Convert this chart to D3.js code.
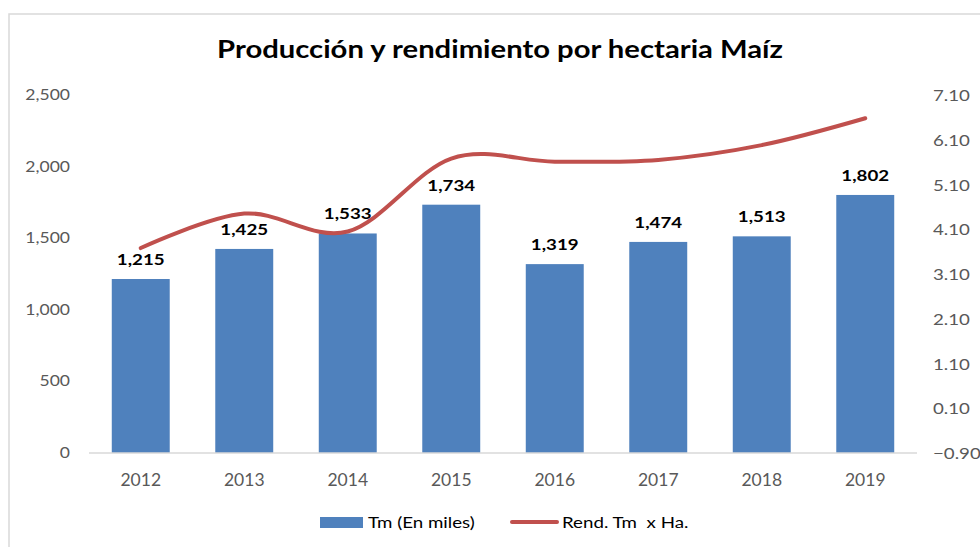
<!DOCTYPE html>
<html>
<head>
<meta charset="utf-8">
<script src="https://cdn.jsdelivr.net/npm/d3@7"></script>
<style>
  body { margin: 0; background: #fff; }
  svg { display: block; font-family: Lato, "Open Sans", sans-serif; }
</style>
</head>
<body>
<svg id="chart" width="980" height="547"></svg>
<script>
// data
const years = ['2012', '2013', '2014', '2015', '2016', '2017', '2018', '2019'];
const production = [1215, 1425, 1533, 1734, 1319, 1474, 1513, 1802];
const yieldPerHa = [3.68, 4.45, 4.05, 5.68, 5.61, 5.65, 5.98, 6.58];
const leftTicks = [0, 500, 1000, 1500, 2000, 2500];
const rightTicks = [-0.9, 0.1, 1.1, 2.1, 3.1, 4.1, 5.1, 6.1, 7.1];

const svg = d3.select('#chart');
const plot = { left: 89, right: 917, top: 95, bottom: 453 };
const stretch = 1.17; // the original text is drawn a bit wide

// put a text at (x, y), optionally widened
function at(x, y, sx) {
    return 'translate(' + x + ',' + y + ') scale(' + (sx || stretch) + ',1)';
}

// outer frame
svg.append('path')
    .attr('d', 'M9,560 L9,14 L990,14')
    .attr('fill', 'none')
    .attr('stroke', '#d9d9d9')
    .attr('stroke-width', 1.5);

svg.append('text')
    .attr('transform', at(500, 58))
    .attr('text-anchor', 'middle')
    .style('font-size', '25px').style('font-weight', 'bold')
    .attr('fill', '#000')
    .text('Producción y rendimiento por hectaria Maíz');

const x = d3.scaleBand().domain(years)
    .range([plot.left, plot.right]).paddingInner(0.44).paddingOuter(0.22);
const yL = d3.scaleLinear().domain([0, 2500]).range([plot.bottom, plot.top]);
const yR = d3.scaleLinear().domain([-0.9, 7.1]).range([plot.bottom, plot.top]);

// left axis labels
svg.append('g').selectAll('text').data(leftTicks).join('text')
    .attr('transform', d => at(70, yL(d) + 5))
    .attr('text-anchor', 'end')
    .style('font-size', '15px').attr('fill', '#595959')
    .text(d => d3.format(',')(d));

// right axis labels
svg.append('g').selectAll('text').data(rightTicks).join('text')
    .attr('transform', d => at(933, yR(d) + 6))
    .style('font-size', '16px').attr('fill', '#595959')
    .text(d => d3.format('.2f')(d));

// bars
svg.append('g').selectAll('rect').data(production).join('rect')
    .attr('x', (d, i) => x(years[i]))
    .attr('width', x.bandwidth())
    .attr('y', d => yL(d))
    .attr('height', d => yL(0) - yL(d))
    .attr('fill', '#4f81bd');

// x axis line
svg.append('line')
    .attr('x1', plot.left).attr('x2', plot.right)
    .attr('y1', yL(0)).attr('y2', yL(0))
    .attr('stroke', '#d9d9d9').attr('stroke-width', 1.5);

// x labels
svg.append('g').selectAll('text').data(years).join('text')
    .attr('transform', d => at(x(d) + x.bandwidth() / 2, 486, 1.0))
    .attr('text-anchor', 'middle')
    .style('font-size', '17.5px').attr('fill', '#595959')
    .text(d => d);

// bar value labels
svg.append('g').selectAll('text').data(production).join('text')
    .attr('transform', (d, i) => at(x(years[i]) + x.bandwidth() / 2, yL(d) - 14))
    .attr('text-anchor', 'middle')
    .style('font-size', '16px').style('font-weight', 'bold')
    .attr('fill', '#000')
    .text(d => d3.format(',')(d));

// yield line
const line = d3.line()
    .x((d, i) => x(years[i]) + x.bandwidth() / 2)
    .y(d => yR(d))
    .curve(d3.curveCardinal.tension(0));

svg.append('path')
    .datum(yieldPerHa)
    .attr('d', line)
    .attr('fill', 'none')
    .attr('stroke', '#c0504d')
    .attr('stroke-width', 4)
    .attr('stroke-linecap', 'round');

// legend
const legend = svg.append('g').style('font-size', '16px').attr('fill', '#000');
legend.append('rect')
    .attr('x', 320).attr('y', 517).attr('width', 43).attr('height', 11)
    .attr('fill', '#4f81bd');
legend.append('text').attr('transform', at(368, 528)).text('Tm (En miles)');
legend.append('line')
    .attr('x1', 512).attr('x2', 557).attr('y1', 522).attr('y2', 522)
    .attr('stroke', '#c0504d').attr('stroke-width', 4).attr('stroke-linecap', 'round');
legend.append('text').attr('transform', at(562, 528))
    .style('white-space', 'pre').text('Rend. Tm  x Ha.');
</script>
</body>
</html>
